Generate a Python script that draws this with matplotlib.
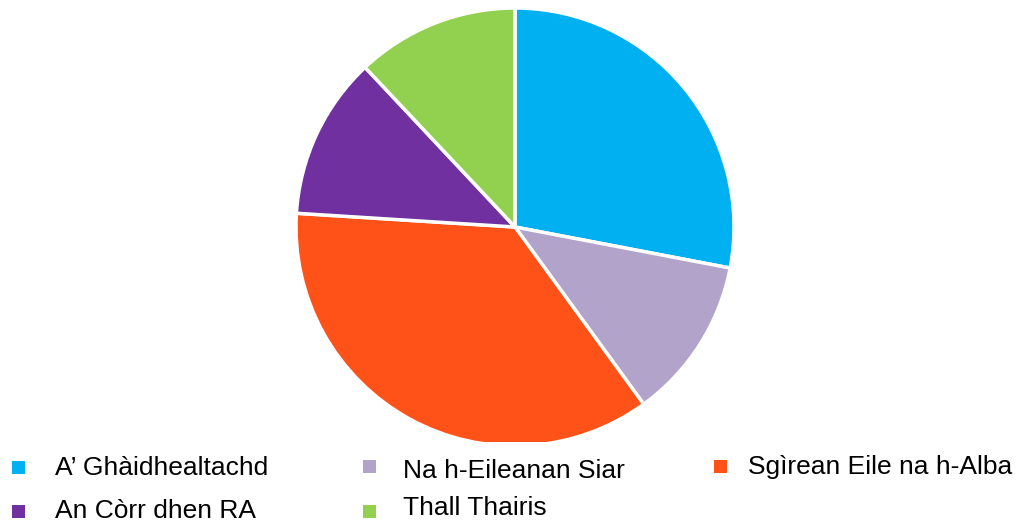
import matplotlib
matplotlib.use("Agg")
import matplotlib.pyplot as plt
from matplotlib.patches import Rectangle

labels = ["A\u2019 Gh\u00e0idhealtachd", "Na h-Eileanan Siar", "Sg\u00ecrean Eile na h-Alba",
          "An C\u00f2rr dhen RA", "Thall Thairis"]
values = [28, 12, 36, 12, 12]
colors = ["#00B0F0", "#B1A3C9", "#FF5219", "#7030A0", "#92D050"]

W, H = 1019, 523
fig = plt.figure(figsize=(W / 100, H / 100), dpi=100)

# pie axes: centre (515,227) radius 219 px, clipped at y=442
cx, cy, r = 515, 227, 219
top, bottom = cy - r, 442
ax = fig.add_axes([(cx - r) / W, (H - bottom) / H, 2 * r / W, (bottom - top) / H])
wedges, _ = ax.pie(values, colors=colors, startangle=90, counterclock=False, radius=1,
                   wedgeprops=dict(edgecolor="white", linewidth=2.5))
for w in wedges:
    w.set_clip_on(True)
    w.set_clip_path(ax.patch)
ax.set_xlim(-1, 1)
ax.set_ylim(1 - (bottom - top) / r, 1)
ax.set_aspect("auto")
ax.axis("off")

# legend (manual, row-major like the reference)
marker_x = [12, 363, 714]
text_x = [55, 403, 748]
baselines = [[475, 478, 474], [518, 515, 515]]
marker_y = [[461, 460, 460], [505, 505, 505]]
for i, (lab, col) in enumerate(zip(labels, colors)):
    rr, cc = divmod(i, 3)
    mx, my = marker_x[cc], marker_y[rr][cc]
    fig.patches.append(Rectangle((mx / W, (H - my - 13) / H), 13 / W, 13 / H,
                                 transform=fig.transFigure, color=col, figure=fig,
                                 linewidth=0))
    fig.text(text_x[cc] / W, (H - baselines[rr][cc]) / H, lab, fontsize=19,
             family="Liberation Sans", va="baseline", ha="left", color="black")

fig.savefig("out.png", dpi=100)
